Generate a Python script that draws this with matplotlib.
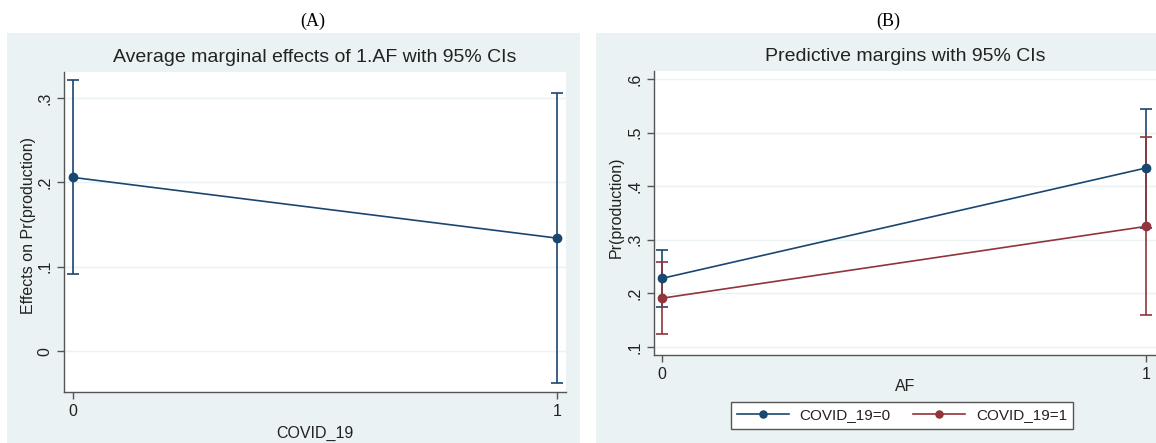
import matplotlib.pyplot as plt
from matplotlib.patches import Rectangle

# (A) average marginal effect of 1.AF by COVID_19
covid = [0, 1]
ame = [0.206, 0.134]
ame_lo = [0.091, -0.038]
ame_hi = [0.321, 0.306]

# (B) predictive margins by AF, one series per COVID_19 level
af = [0, 1]
pm0 = [0.228, 0.434]
pm0_lo = [0.175, 0.322]
pm0_hi = [0.281, 0.545]
pm1 = [0.191, 0.325]
pm1_lo = [0.124, 0.160]
pm1_hi = [0.258, 0.492]

NAVY = "#1a476f"
MAROON = "#90353b"
BG = "#eaf2f3"
AXC = "#555555"
TXT = "#222222"

plt.rcParams["font.family"] = ["Liberation Sans", "DejaVu Sans"]

W, H = 1156, 443
fig = plt.figure(figsize=(W / 100, H / 100), dpi=100)


def px_rect(x0, y0, x1, y1):
    # pixel box (top-left origin) -> figure fraction [l, b, w, h]
    return [x0 / W, (H - y1) / H, (x1 - x0) / W, (y1 - y0) / H]


# graph region backgrounds, kept behind the axes
for x0, x1 in [(7, 580), (596, 1156)]:
    l, b, w, h = px_rect(x0, 33, x1, 443)
    fig.patches.append(Rectangle((l, b), w, h, transform=fig.transFigure,
                                 facecolor=BG, edgecolor="none", zorder=-5))

fig.text(313 / W, 1 - 21 / H, "(A)", family="Liberation Serif", fontsize=13,
         ha="center", va="center", color="black")
fig.text(888 / W, 1 - 21 / H, "(B)", family="Liberation Serif", fontsize=13,
         ha="center", va="center", color="black")


def stata_axes(ax, yticks, ylabels, xlim, ylim):
    ax.set_facecolor("white")
    ax.set_xlim(*xlim)
    ax.set_ylim(*ylim)
    for s in ["top", "right"]:
        ax.spines[s].set_visible(False)
    for s in ["left", "bottom"]:
        ax.spines[s].set_color(AXC)
        ax.spines[s].set_linewidth(1.0)
    ax.set_yticks(yticks)
    ax.set_yticklabels(ylabels, rotation=90, va="center")
    ax.set_xticks([0, 1])
    ax.set_xticklabels(["0", "1"])
    ax.tick_params(colors=AXC, labelcolor=TXT, labelsize=11.5, length=5, width=1.0)
    ax.grid(axis="y", color=BG, linewidth=1.0)
    ax.set_axisbelow(True)


# panel A
ax1 = fig.add_axes(px_rect(64, 72, 566, 392))
stata_axes(ax1, [0, 0.1, 0.2, 0.3], ["0", ".1", ".2", ".3"],
           (-0.0186, 1.0186), (-0.0485, 0.331))
ax1.errorbar(covid, ame, yerr=[[m - l for m, l in zip(ame, ame_lo)],
                               [h - m for m, h in zip(ame, ame_hi)]],
             fmt="none", ecolor=NAVY, elinewidth=1.2, capsize=4.5, capthick=1.2)
ax1.plot(covid, ame, color=NAVY, lw=1.2, marker="o", ms=6)
ax1.set_title("Average marginal effects of 1.AF with 95% CIs", fontsize=14,
              color=TXT, pad=7)
ax1.set_xlabel("COVID_19", fontsize=11.5, color=TXT)
ax1.xaxis.set_label_coords(0.5, -0.106)
ax1.set_ylabel("Effects on Pr(production)", fontsize=11.5, color=TXT)
ax1.yaxis.set_label_coords(-0.0558, 0.52)

# panel B
ax2 = fig.add_axes(px_rect(654, 71, 1156, 355))
stata_axes(ax2, [0.1, 0.2, 0.3, 0.4, 0.5, 0.6],
           [".1", ".2", ".3", ".4", ".5", ".6"],
           (-0.0165, 1.0207), (0.085, 0.615))
for y, lo, hi, c in [(pm0, pm0_lo, pm0_hi, NAVY), (pm1, pm1_lo, pm1_hi, MAROON)]:
    ax2.errorbar(af, y, yerr=[[m - l for m, l in zip(y, lo)],
                              [h - m for m, h in zip(y, hi)]],
                 fmt="none", ecolor=c, elinewidth=1.2, capsize=4.5, capthick=1.2)
h0, = ax2.plot(af, pm0, color=NAVY, lw=1.2, marker="o", ms=6, label="COVID_19=0")
h1, = ax2.plot(af, pm1, color=MAROON, lw=1.2, marker="o", ms=6, label="COVID_19=1")
ax2.set_title("Predictive margins with 95% CIs", fontsize=14, color=TXT, pad=7)
ax2.set_xlabel("AF", fontsize=11.5, color=TXT)
ax2.xaxis.set_label_coords(0.5, -0.0845)
ax2.set_ylabel("Pr(production)", fontsize=11.5, color=TXT)
ax2.yaxis.set_label_coords(-0.0598, 0.52)

leg = fig.legend(handles=[h0, h1], loc="center", ncol=2,
                 bbox_to_anchor=(902 / W, 1 - 415.5 / H), fontsize=11,
                 frameon=True, fancybox=False, handlelength=3.4,
                 columnspacing=1.5, borderpad=0.4, handletextpad=0.7,
                 markerscale=0.85, borderaxespad=0)
leg.get_frame().set_edgecolor(AXC)
leg.get_frame().set_linewidth(1.0)
leg.get_frame().set_alpha(1.0)
for t in leg.get_texts():
    t.set_color(TXT)

fig.savefig("out.png", dpi=100)
